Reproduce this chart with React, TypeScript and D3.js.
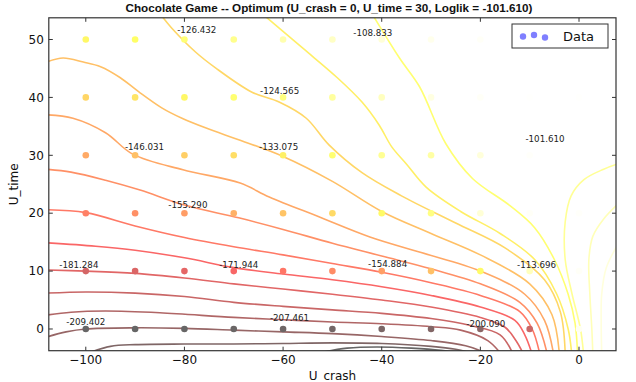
import React, { useEffect, useRef } from "react";
import * as d3 from "d3";

// axis ranges and ticks
const xRange = [-107.5, 7.5];
const yRange = [-3.75, 53.75];
const xTicks = [-100, -80, -60, -40, -20, 0];
const yTicks = [0, 10, 20, 30, 40, 50];

// data grid (U_crash x U_time) and loglik at each point, one row per U_time
const uCrash = [-100, -90, -80, -70, -60, -50, -40, -30, -20, -10, 0];
const uTime = [0, 10, 20, 30, 40, 50];
const loglik = [
  [-209.4, -209.6, -209.3, -208.6, -207.5, -206.3, -204.5, -202.5, -200.1, -184, -104],
  [-181.3, -179.5, -177, -171.9, -166, -160, -154.9, -146, -130, -113.7, -103],
  [-163, -159, -155.3, -150, -145, -139, -130, -124, -109, -103, -102.5],
  [-152, -146, -142, -138, -133.1, -127, -121, -118, -108, -102.5, -101.61],
  [-140, -136, -131, -127, -124.6, -119, -113, -107, -103, -102, -102],
  [-131, -129, -126.4, -122, -116, -112, -108.8, -105, -103, -102.5, -102.5],
];

// annotations: value, x, y
const annValues = ["-126.432", "-108.833", "-101.610", "-124.565", "-146.031", "-133.075", "-155.290",
  "-181.284", "-171.944", "-154.884", "-113.696", "-209.402", "-207.461", "-200.090"];
const annX = [-77.5, -41.8, -6.9, -60.7, -88.1, -60.9, -79.3, -101.4, -69, -38.8, -8.6, -100, -58.7, -18.9];
const annY = [51.1, 50.6, 32.3, 40.6, 30.9, 30.9, 20.9, 10.5, 10.5, 10.7, 10.5, 0.7, 1.4, 0.3];

// contour levels (low -> high) and the traced line of each level
const levels = [-228.1, -218.7, -209.4, -200, -190.6, -181.3, -172, -162.6, -153.3, -143.9, -134.5,
  -125.2, -115.8, -106.4, -97, -87.7, -78.3, -69];
const contourLines: [number, number][][] = [
  [[-52, -4], [-47, -3.3], [-41, -3.1], [-34, -3.3], [-28, -3.7], [-25, -4.1]],
  [[-99, -4], [-95, -3], [-90, -2.7], [-80, -2.6], [-70, -2.6], [-60, -2.5], [-50, -2.4], [-40, -2.5], [-30, -3], [-25, -3.5], [-22, -4.1]],
  [[-108, -1.4], [-104, -0.5], [-100, 0], [-90, 0.2], [-80, 0.1], [-70, -0.2], [-60, -0.5], [-50, -0.8], [-40, -1.3], [-30, -2], [-23, -2.9], [-19, -4.1]],
  [[-108, 2.4], [-103, 2.9], [-96, 3.1], [-85, 2.8], [-70, 2], [-60, 1.6], [-50, 1.2], [-40, 0.9], [-30, 0.4], [-24, -0.2], [-18.5, -2], [-16, -4.1]],
  [[-108, 6.2], [-100, 6.4], [-90, 6.2], [-80, 5.6], [-70, 4.6], [-60, 3.9], [-50, 3.3], [-40, 2.7], [-30, 1.8], [-22, 0.6], [-16, -1], [-13.5, -4.1]],
  [[-108, 10.2], [-100, 10], [-90, 9.6], [-80, 8.8], [-70, 7.8], [-60, 6.9], [-50, 6], [-40, 5], [-30, 3.8], [-20, 2], [-15, 0.3], [-12.8, -2], [-11.4, -4.1]],
  [[-108, 14.9], [-98, 14.3], [-90, 13.6], [-80, 12.3], [-70, 10.6], [-60, 9.5], [-50, 8.5], [-40, 7.3], [-30, 5.8], [-20, 3.8], [-13, 1.5], [-11, -1], [-9.6, -4.1]],
  [[-108, 20.6], [-100, 20.1], [-90, 17.8], [-80, 15.8], [-70, 14.2], [-60, 12.8], [-50, 11.3], [-40, 9.8], [-30, 8], [-20, 5.8], [-12, 3], [-9.5, 0], [-8, -4.1]],
  [[-108, 27.6], [-103, 27.1], [-96, 25.7], [-89, 24], [-80, 21.4], [-69, 19.2], [-60, 17.2], [-50, 14.8], [-40, 12.6], [-30, 10.4], [-20, 7.8], [-12, 4.6], [-8.5, 1], [-6.5, -4.1]],
  [[-108, 37], [-102.6, 36.4], [-96, 33.9], [-90.5, 30.2], [-80.3, 27.5], [-68.7, 25.2], [-62.8, 22.8], [-52.5, 19.3], [-42.4, 15.9], [-32, 13.2], [-20, 10], [-11, 6], [-7, 1.5], [-5.2, -4.1]],
  [[-108, 46.1], [-104.6, 46.8], [-100.5, 46.1], [-97, 45.3], [-93, 43.4], [-89.3, 41], [-84.6, 38.2], [-80.5, 36.4], [-75.6, 34.7], [-68.7, 32.6], [-60, 29.8], [-50, 25.5], [-40, 20.3], [-30, 16.5], [-20, 12.8], [-10, 7.8], [-5.5, 2.5], [-4, -4.1]],
  [[-85, 54.5], [-82.6, 52], [-77.7, 47.8], [-73.7, 45.1], [-66.3, 40.9], [-60.8, 39.2], [-55.3, 36.4], [-50.7, 31.8], [-44, 27], [-36, 23], [-25, 18.3], [-15, 14], [-7, 8.5], [-3.8, 3], [-2.8, -4.1]],
  [[-64.3, 54.5], [-56, 48.5], [-49, 43.4], [-44, 39.2], [-40.5, 35.2], [-38, 31.5], [-35, 28.5], [-31, 24.5], [-24, 20.3], [-16, 16.5], [-9, 12], [-4.5, 6], [-2.2, 0], [-1.5, -4.1]],
  [[-42, 54.5], [-36.4, 46.8], [-32.3, 41.8], [-27, 32], [-21.6, 26], [-14, 21.3], [-9, 17.5], [-5, 12], [-2.2, 6], [-0.8, 1], [-0.3, -4.1]],
  [[7.8, 28.5], [5, 27.6], [1, 25.8], [-1.6, 23], [-2.8, 18.5], [-2.8, 12], [-1.4, 6], [0.3, 0], [0.9, -4.1]],
  [[7.8, 21.5], [5, 19], [2.8, 16], [2, 12], [2.2, 6], [2.6, 0], [2.8, -4.1]],
  [[7.8, 14.5], [5.5, 10.5], [4.6, 6], [4.5, 1], [4.6, -4.1]],
  [[7.8, 7], [6.5, 3], [6.2, -4.1]],
];

// matplotlib "hot" colormap, seen through alpha on white
const hot = (t: number, alpha: number) => {
  const c = (v: number) => Math.max(0, Math.min(1, v));
  const r = c(t / 0.365), g = c((t - 0.365) / 0.381), b = c((t - 0.746) / 0.254);
  const mix = (v: number) => Math.round(255 * (1 - alpha * (1 - v)));
  return `rgb(${mix(r)},${mix(g)},${mix(b)})`;
};

const App: React.FC = () => {
  const svgRef = useRef<SVGSVGElement>(null);
  const width = 636;
  const height = 382;

  useEffect(() => {
    if (!svgRef.current) return;
    const svg = d3.select(svgRef.current);
    svg.selectAll("*").remove();
    const margin = { top: 17.8, right: 20, bottom: 31.3, left: 48.8 };

    const x = d3.scaleLinear().domain(xRange).range([margin.left, width - margin.right]);
    const y = d3.scaleLinear().domain(yRange).range([height - margin.bottom, margin.top]);

    const levelColor = d3.scaleLinear().domain([levels[0], levels[levels.length - 1]]).range([0, 1]);
    const allVals = loglik.flat();
    const pointColor = d3.scaleLinear().domain([d3.min(allVals)!, d3.max(allVals)!]).range([0, 1]).clamp(true);

    svg.append("clipPath").attr("id", "plot-clip")
      .append("rect")
      .attr("x", x(xRange[0])).attr("y", y(yRange[1]))
      .attr("width", x(xRange[1]) - x(xRange[0]))
      .attr("height", y(yRange[0]) - y(yRange[1]));

    const plot = svg.append("g").attr("clip-path", "url(#plot-clip)");

    // contour lines
    const line = d3.line<[number, number]>()
      .x((d) => x(d[0]))
      .y((d) => y(d[1]))
      .curve(d3.curveCatmullRom.alpha(0.5));

    plot.selectAll(".contour")
      .data(contourLines)
      .enter()
      .append("path")
      .attr("class", "contour")
      .attr("d", (d) => line(d))
      .attr("fill", "none")
      .attr("stroke", (_, i) => hot(levelColor(levels[i]), 0.6))
      .attr("stroke-width", 1.6);

    // data points
    const pts = uTime.flatMap((ut, j) => uCrash.map((uc, i) => ({ uc, ut, v: loglik[j][i] })));
    plot.selectAll(".pt")
      .data(pts)
      .enter()
      .append("circle")
      .attr("class", "pt")
      .attr("cx", (d) => x(d.uc))
      .attr("cy", (d) => y(d.ut))
      .attr("r", 3.3)
      .attr("fill", (d) => hot(pointColor(d.v), 0.6));

    // annotations
    svg.selectAll(".ann")
      .data(annValues)
      .enter()
      .append("text")
      .attr("class", "ann")
      .attr("x", (_, i) => x(annX[i]))
      .attr("y", (_, i) => y(annY[i]))
      .attr("text-anchor", "middle")
      .attr("font-family", "DejaVu Sans")
      .attr("font-size", 8.7)
      .attr("fill", "#222")
      .text((d) => d);

    // frame
    const x0 = x(xRange[0]), x1 = x(xRange[1]), y0 = y(yRange[0]), y1 = y(yRange[1]);
    svg.append("rect")
      .attr("x", x0).attr("y", y1)
      .attr("width", x1 - x0).attr("height", y0 - y1)
      .attr("fill", "none").attr("stroke", "#333").attr("stroke-width", 1.2);

    // ticks (inward, all four sides)
    const tl = 4;
    xTicks.forEach((t) => {
      svg.append("line").attr("x1", x(t)).attr("x2", x(t)).attr("y1", y0).attr("y2", y0 - tl).attr("stroke", "#333");
      svg.append("line").attr("x1", x(t)).attr("x2", x(t)).attr("y1", y1).attr("y2", y1 + tl).attr("stroke", "#333");
      svg.append("text").attr("x", x(t)).attr("y", y0 + 13).attr("text-anchor", "middle")
        .attr("font-family", "DejaVu Sans").attr("font-size", 12).attr("fill", "#111")
        .text(t < 0 ? "\u2212" + Math.abs(t) : String(t));
    });
    yTicks.forEach((t) => {
      svg.append("line").attr("x1", x0).attr("x2", x0 + tl).attr("y1", y(t)).attr("y2", y(t)).attr("stroke", "#333");
      svg.append("line").attr("x1", x1).attr("x2", x1 - tl).attr("y1", y(t)).attr("y2", y(t)).attr("stroke", "#333");
      svg.append("text").attr("x", x0 - 5).attr("y", y(t) + 4.3).attr("text-anchor", "end")
        .attr("font-family", "DejaVu Sans").attr("font-size", 12).attr("fill", "#111")
        .text(String(t));
    });

    // axis labels and title
    svg.append("text").attr("x", (x0 + x1) / 2).attr("y", 380).attr("text-anchor", "middle")
      .attr("font-family", "DejaVu Sans").attr("font-size", 12).attr("fill", "#111").text("U_crash");
    svg.append("text").attr("transform", `translate(18,${(y0 + y1) / 2}) rotate(-90)`).attr("text-anchor", "middle")
      .attr("font-family", "DejaVu Sans").attr("font-size", 12).attr("fill", "#111").text("U_time");
    svg.append("text").attr("x", 329).attr("y", 12).attr("text-anchor", "middle")
      .attr("font-family", "Liberation Sans").attr("font-weight", "bold").attr("font-size", 11.7).attr("fill", "#111")
      .text("Chocolate Game -- Optimum (U_crash = 0, U_time = 30, Loglik = -101.610)");

    // legend
    const lg = svg.append("g");
    lg.append("rect").attr("x", 512).attr("y", 24).attr("width", 96).attr("height", 24)
      .attr("fill", "white").attr("stroke", "#333").attr("stroke-width", 1);
    [[523, 36.5], [534, 35], [545, 37.5]].forEach(([cx, cy]) => {
      lg.append("circle").attr("cx", cx).attr("cy", cy).attr("r", 3.2).attr("fill", "#7f7fff");
    });
    lg.append("text").attr("x", 563).attr("y", 40.5).attr("font-family", "DejaVu Sans").attr("font-size", 13)
      .attr("fill", "#111").text("Data");
  }, []);

  return (
    <svg ref={svgRef} width={width} height={height}
      style={{ position: "absolute", left: 0, top: 0, background: "white" }} />
  );
};

export default App;
